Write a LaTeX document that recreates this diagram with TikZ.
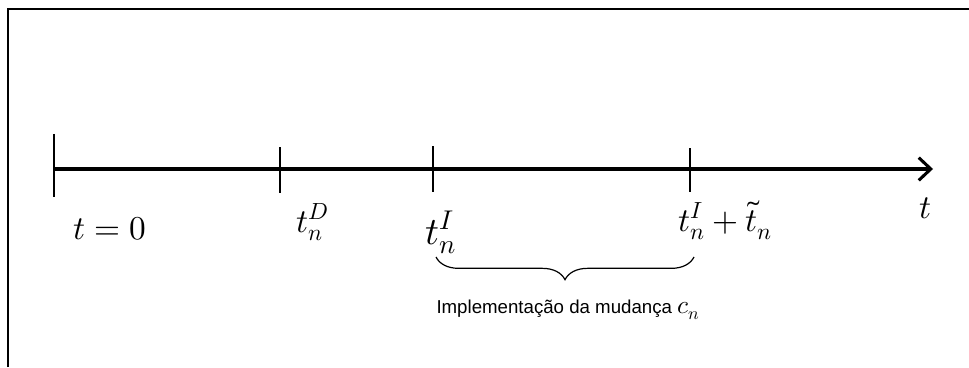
\documentclass[tikz,border=0pt]{standalone}
\usepackage{fontspec}
\usepackage{unicode-math}
\setsansfont{Liberation Sans}
\setmathfont{Latin Modern Math}
\usetikzlibrary{arrows.meta,decorations.pathreplacing}

\begin{document}
\begin{tikzpicture}[x=0.75pt,y=-0.75pt,
  axis/.style={line width=2.3pt},
  tick/.style={line width=1pt},
  lbl/.style={inner sep=0pt,font=\fontsize{25}{30}\selectfont},
  biglbl/.style={inner sep=0pt,font=\fontsize{29}{34}\selectfont},
  note/.style={inner sep=0pt,font=\sffamily\fontsize{14}{17}\selectfont},
  brc/.style={line width=0.9pt,decorate,decoration={brace,mirror,amplitude=17pt}}]
\useasboundingbox (0,0) rectangle (969,367);
% --- frame, open on the right ---
\draw[line width=1.2pt] (8,367) -- (8,9) -- (969,9);
% --- time axis and its marks ---
\coordinate (t0) at (54,169);
\coordinate (tD) at (280,169);
\coordinate (tI) at (433,169);
\coordinate (tE) at (690,169);
\coordinate (tend) at (933,169);
\draw[axis,-{Straight Barb[length=9pt,width=17pt]}] (t0) -- (tend);
\draw[tick] (t0) ++(0,-35) -- ++(0,63);
\draw[tick] (tD) ++(0,-22) -- ++(0,46);
\draw[tick] (tI) ++(0,-23) -- ++(0,46);
\draw[tick] (tE) ++(0,-21) -- ++(0,44);
% --- labels ---
\node[lbl,anchor=base]         (l0) at (110,239) {$t=0$};
\node[lbl,anchor=base west]    (lD) at (296,232) {$t_n^D$};
\node[biglbl,anchor=base west] (lI) at (425,244) {$t_n^I$};
\node[lbl,anchor=base west]    (lE) at (678,231) {$t_n^I+\tilde{t}_n$};
\node[lbl,anchor=base]         (lt) at (925,218) {$t$};
% --- implementation interval ---
\coordinate (bL) at (436,257);
\coordinate (bR) at (694,257);
\draw[brc] (bL) -- (bR);
\node[note,anchor=base] (impl) at (568,313) {Implementação da mudança {\fontsize{19}{19}\selectfont$c_n$}};
\end{tikzpicture}
\end{document}
